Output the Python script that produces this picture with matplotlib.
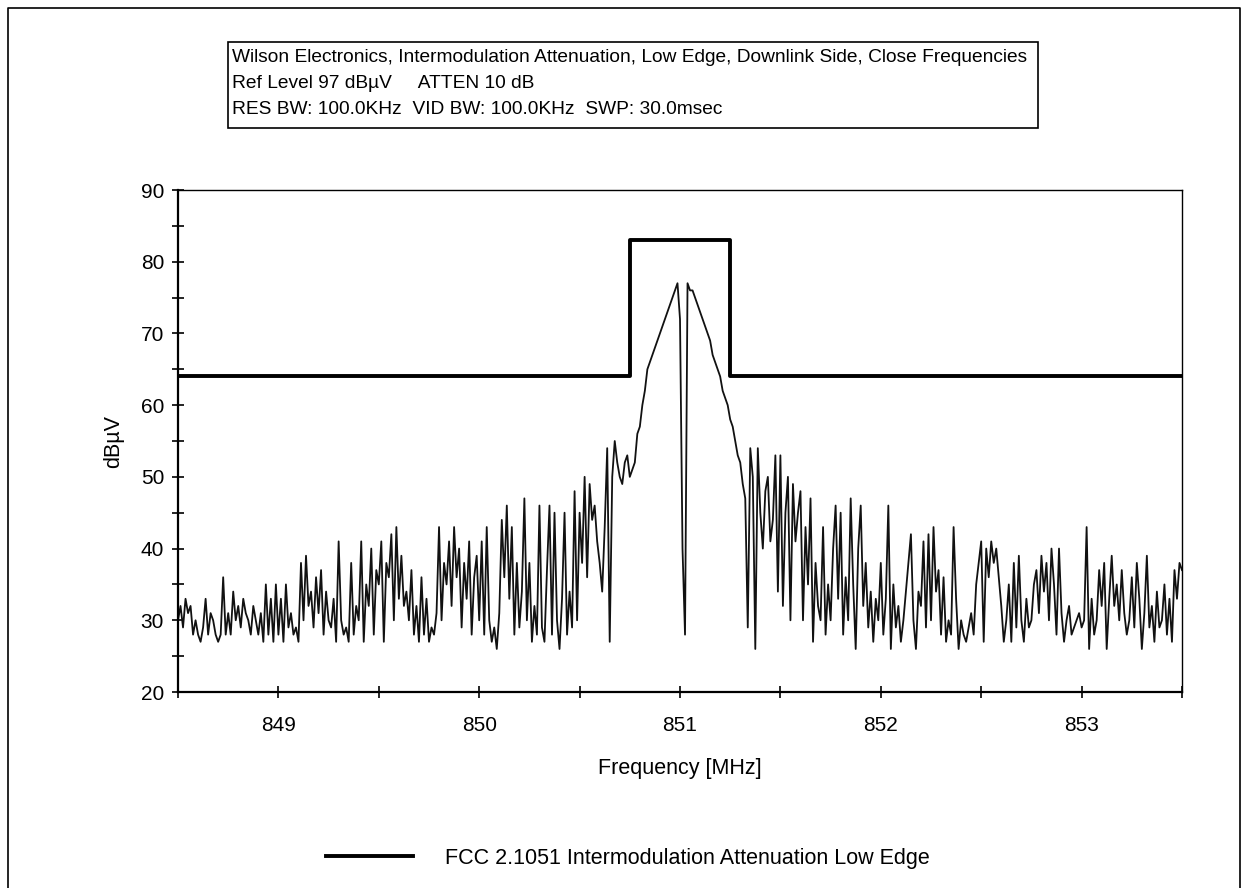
import numpy as np
import matplotlib.pyplot as plt
from matplotlib.patches import Rectangle
from matplotlib.lines import Line2D
from matplotlib.ticker import MultipleLocator

plt.rcParams['font.family'] = ['Liberation Sans', 'DejaVu Sans']

# spectrum trace, 401 points from 848.5 to 853.5 MHz (step 0.0125)
f_start = 848.5
f_step = 0.0125
trace = [
    30, 32, 29, 33, 31, 32, 28, 30, 28, 27, 29, 33, 28, 31, 30, 28, 27, 28, 36, 28,
    31, 28, 34, 30, 32, 29, 33, 31, 30, 28, 32, 30, 28, 31, 27, 35, 28, 33, 27, 35,
    28, 33, 27, 35, 29, 31, 28, 29, 27, 38, 30, 39, 32, 34, 29, 36, 31, 37, 28, 34,
    30, 29, 33, 27, 41, 30, 28, 29, 27, 38, 28, 32, 30, 41, 27, 35, 32, 40, 28, 37,
    35, 41, 27, 38, 36, 42, 30, 43, 33, 39, 32, 34, 30, 37, 28, 32, 27, 36, 28, 33,
    27, 29, 28, 31, 43, 30, 38, 35, 41, 32, 43, 36, 40, 29, 38, 33, 41, 28, 36, 39,
    30, 41, 28, 43, 30, 27, 29, 26, 31, 44, 36, 46, 33, 43, 28, 38, 29, 34, 47, 30,
    38, 27, 32, 28, 46, 29, 27, 37, 46, 28, 45, 30, 26, 33, 45, 28, 34, 29, 48, 30,
    45, 38, 50, 36, 49, 44, 46, 41, 38, 34, 43, 54, 27, 50, 55, 52, 50, 49, 52, 53,
    50, 51, 52, 56, 57, 60, 62, 65, 66, 67, 68, 69, 70, 71, 72, 73, 74, 75, 76, 77,
    72, 40, 28, 77, 76, 76, 75, 74, 73, 72, 71, 70, 69, 67, 66, 65, 64, 62, 61, 60,
    58, 57, 55, 53, 52, 49, 47, 29, 54, 50, 26, 54, 45, 40, 48, 50, 41, 44, 53, 34,
    53, 32, 45, 50, 30, 49, 41, 45, 48, 30, 43, 35, 47, 27, 38, 32, 30, 43, 28, 35,
    30, 40, 46, 33, 45, 28, 36, 30, 47, 35, 26, 40, 46, 32, 38, 29, 34, 27, 33, 30,
    38, 28, 33, 46, 26, 35, 29, 32, 27, 30, 34, 38, 42, 30, 26, 34, 32, 41, 29, 42,
    30, 43, 34, 37, 28, 36, 27, 30, 28, 43, 33, 26, 30, 28, 27, 29, 31, 28, 35, 38,
    41, 27, 40, 36, 41, 38, 40, 36, 32, 27, 30, 35, 27, 38, 29, 39, 30, 27, 33, 29,
    30, 35, 37, 31, 39, 34, 38, 30, 40, 35, 28, 40, 31, 27, 30, 32, 28, 29, 30, 31,
    29, 30, 43, 26, 33, 28, 30, 37, 32, 38, 26, 33, 39, 32, 35, 30, 37, 31, 28, 30,
    36, 29, 38, 33, 26, 31, 39, 29, 32, 27, 34, 29, 30, 35, 28, 33, 27, 37, 33, 38,
    37,
]
freq = f_start + f_step * np.arange(len(trace))

# FCC limit mask
limit_f = [848.5, 850.75, 850.75, 851.25, 851.25, 853.5]
limit_db = [64, 64, 83, 83, 64, 64]

header_lines = [
    "Wilson Electronics, Intermodulation Attenuation, Low Edge, Downlink Side, Close Frequencies",
    "Ref Level 97 dB\u00b5V     ATTEN 10 dB",
    "RES BW: 100.0KHz  VID BW: 100.0KHz  SWP: 30.0msec",
]
legend_label = "FCC 2.1051 Intermodulation Attenuation Low Edge"

fig = plt.figure(figsize=(12.46, 8.88), dpi=100)
ax = fig.add_axes([178 / 1246, 1 - 692 / 888, (1182 - 178) / 1246, (692 - 190) / 888])

ax.plot(freq, trace, color='#111111', lw=1.3)
line_lim, = ax.plot(limit_f, limit_db, color='black', lw=2.8)

ax.set_xlim(848.5, 853.5)
ax.set_ylim(20, 90)
ax.xaxis.set_major_locator(MultipleLocator(1))
ax.xaxis.set_minor_locator(MultipleLocator(0.5))
ax.yaxis.set_major_locator(MultipleLocator(10))
ax.yaxis.set_minor_locator(MultipleLocator(5))
ax.tick_params(which='both', direction='inout', length=8, width=1.2, labelsize=15)
ax.tick_params(axis='y', pad=6)
ax.tick_params(axis='x', pad=13)
for s in ax.spines.values():
    s.set_linewidth(1)
for side in ['left', 'bottom']:
    ax.spines[side].set_linewidth(1.6)
ax.set_xlabel("Frequency [MHz]", fontsize=15.5, labelpad=17)
ax.set_ylabel("dB\u00b5V", fontsize=15.5, labelpad=12)

# header box
fig.text(232 / 1246, 1 - 57 / 888, header_lines[0], fontsize=13.8, va='center', ha='left')
fig.text(232 / 1246, 1 - 83 / 888, header_lines[1], fontsize=13.8, va='center', ha='left')
fig.text(232 / 1246, 1 - 110 / 888, header_lines[2], fontsize=13.8, va='center', ha='left')
fig.patches.append(Rectangle((228 / 1246, 1 - 128 / 888), (1038 - 228) / 1246, 86 / 888,
                             transform=fig.transFigure, fill=False, ec='black', lw=1.2))
# outer frame (top, left, right)
fig.lines.append(Line2D([8 / 1246, 8 / 1246, 1240 / 1246, 1240 / 1246],
                        [0, 1 - 8 / 888, 1 - 8 / 888, 0],
                        transform=fig.transFigure, color='black', lw=1.2))

fig.legend([line_lim], [legend_label], loc='center', bbox_to_anchor=(628 / 1246, 1 - 858 / 888),
           frameon=False, fontsize=15.5, handlelength=4, handletextpad=1.5)

fig.savefig("out.png", dpi=100)
